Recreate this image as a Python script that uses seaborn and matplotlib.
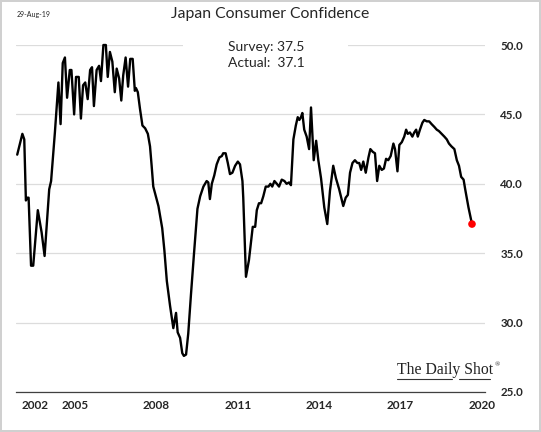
import pandas as pd
import matplotlib.pyplot as plt
import seaborn as sns
from matplotlib.patches import Rectangle
from matplotlib.lines import Line2D

# -------------------------------
# Data (decimal years)
# -------------------------------
years = [
    2002.86, 2003.05, 2003.12, 2003.18, 2003.23, 2003.28, 2003.37, 2003.45, 2003.62, 2003.76,
    2003.87, 2004.04, 2004.11, 2004.25, 2004.38, 2004.46, 2004.54, 2004.62, 2004.70, 2004.80,
    2004.86, 2004.96, 2005.03, 2005.13, 2005.21, 2005.29, 2005.37, 2005.46, 2005.55, 2005.62,
    2005.69, 2005.79, 2005.88, 2005.95, 2006.04, 2006.13, 2006.20, 2006.28, 2006.37, 2006.46,
    2006.53, 2006.62, 2006.70, 2006.77, 2006.86, 2006.95, 2007.03, 2007.12, 2007.20, 2007.24,
    2007.31, 2007.39, 2007.48, 2007.58, 2007.68, 2007.76, 2007.82, 2007.88, 2008.07, 2008.21,
    2008.29, 2008.38, 2008.50, 2008.62, 2008.72, 2008.78, 2008.87, 2008.95, 2009.01, 2009.09,
    2009.17, 2009.27, 2009.38, 2009.51, 2009.61, 2009.73, 2009.85, 2009.91, 2009.97, 2010.04,
    2010.13, 2010.22, 2010.32, 2010.41, 2010.46, 2010.55, 2010.63, 2010.71, 2010.80, 2010.90,
    2011.00, 2011.08, 2011.17, 2011.20, 2011.30, 2011.41, 2011.51, 2011.55, 2011.64, 2011.70,
    2011.78, 2011.86, 2011.94, 2012.03, 2012.13, 2012.20, 2012.27, 2012.35, 2012.44, 2012.52,
    2012.62, 2012.72, 2012.80, 2012.89, 2012.96, 2013.05, 2013.14, 2013.21, 2013.27, 2013.33,
    2013.38, 2013.45, 2013.54, 2013.63, 2013.70, 2013.80, 2013.89, 2013.97, 2014.07, 2014.19,
    2014.30, 2014.40, 2014.52, 2014.62, 2014.74, 2014.89, 2014.98, 2015.06, 2015.14, 2015.23,
    2015.32, 2015.41, 2015.48, 2015.55, 2015.63, 2015.72, 2015.82, 2015.89, 2015.98, 2016.06,
    2016.14, 2016.22, 2016.31, 2016.39, 2016.47, 2016.55, 2016.64, 2016.74, 2016.80, 2016.89,
    2016.96, 2017.05, 2017.14, 2017.21, 2017.27, 2017.35, 2017.44, 2017.51, 2017.58, 2017.64,
    2017.72, 2017.81, 2017.88, 2017.97, 2018.06, 2018.15, 2018.25, 2018.34, 2018.42, 2018.52,
    2018.62, 2018.71, 2018.79, 2018.88, 2018.99, 2019.08, 2019.16, 2019.24, 2019.33, 2019.39,
    2019.51, 2019.64,
]
confidence = [
    42.1, 43.6, 43.2, 38.8, 39.0, 39.0, 34.1, 34.1, 38.1, 36.5,
    34.8, 39.6, 40.2, 43.7, 47.3, 44.3, 48.7, 49.1, 46.2, 48.2,
    48.2, 45.0, 47.7, 47.7, 44.7, 47.1, 47.3, 46.1, 48.2, 48.4,
    45.6, 48.2, 48.5, 47.4, 50.0, 50.0, 47.7, 49.5, 48.8, 46.6,
    48.3, 47.6, 46.0, 47.8, 49.1, 47.0, 49.0, 49.0, 46.7, 46.9,
    46.6, 45.4, 44.2, 44.0, 43.6, 42.7, 41.3, 39.8, 38.4, 36.8,
    35.2, 33.0, 31.2, 29.6, 30.7, 29.3, 28.9, 27.8, 27.6, 27.7,
    29.2, 32.0, 34.9, 38.2, 39.1, 39.8, 40.2, 40.1, 38.9, 40.0,
    40.6, 41.4, 41.9, 42.0, 42.2, 42.2, 41.5, 40.7, 40.8, 41.3,
    41.6, 41.4, 40.2, 39.0, 33.3, 34.5, 36.2, 36.9, 36.9, 38.1,
    38.6, 38.6, 39.1, 39.8, 39.8, 40.0, 39.8, 40.2, 40.0, 39.8,
    40.3, 40.2, 40.0, 40.1, 39.9, 43.2, 44.2, 44.8, 44.6, 44.8,
    45.1, 43.9, 43.4, 42.5, 45.5, 41.7, 43.1, 41.7, 40.4, 38.3,
    37.1, 39.5, 41.3, 40.4, 39.6, 38.4, 39.0, 39.2, 40.8, 41.5,
    41.7, 41.5, 41.5, 41.0, 41.6, 40.8, 41.9, 42.5, 42.3, 42.2,
    40.2, 41.3, 41.0, 41.1, 41.8, 41.7, 42.0, 42.9, 42.5, 40.9,
    42.8, 43.0, 43.4, 43.9, 43.6, 43.7, 43.4, 43.7, 43.9, 43.4,
    43.9, 44.4, 44.6, 44.5, 44.5, 44.3, 44.1, 43.9, 43.8, 43.6,
    43.4, 43.2, 42.9, 42.7, 42.5, 41.7, 41.3, 40.5, 40.3, 39.6,
    38.3, 37.1,
]

tick_years = [2003.5, 2005, 2008, 2011, 2014, 2017, 2020]
tick_labels = ["2002", "2005", "2008", "2011", "2014", "2017", "2020"]
y_ticks = [25, 30, 35, 40, 45, 50]

df = pd.DataFrame({"year": years, "confidence": confidence})
last = df.tail(1)

# -------------------------------
# Figure
# -------------------------------
sns.set_style("white")
plt.rcParams["font.family"] = ["Lato", "DejaVu Sans"]

W, H = 541, 432
fig = plt.figure(figsize=(W / 100, H / 100), dpi=100)
fig.patch.set_edgecolor("#d0d0d0")
fig.patch.set_linewidth(1.5)
ax = fig.add_axes([16 / W, 1 - 392 / H, (485 - 16) / W, (392 - 45) / H])

sns.lineplot(data=df, x="year", y="confidence", ax=ax, color="black", lw=1.7, zorder=3)
sns.scatterplot(data=last, x="year", y="confidence", ax=ax, color="red", s=30,
                edgecolor="none", zorder=4)
for ln in ax.lines:
    ln.set_clip_on(False)

ax.set_xlim(2002.815, 2020.12)
ax.set_ylim(25, 50)
ax.set_xlabel("")
ax.set_ylabel("")

ax.yaxis.tick_right()
ax.set_yticks(y_ticks)
ax.set_yticklabels([f"{v:.1f}" for v in y_ticks], fontweight="bold", fontsize=8.3)
ax.tick_params(axis="y", length=0, pad=11)
ax.grid(axis="y", color="#dcdcdc", lw=0.9)

ax.set_xticks(tick_years)
ax.set_xticklabels(tick_labels, fontweight="bold", fontsize=8.5)
ax.tick_params(axis="x", direction="inout", length=5, width=0.8, color="#404040", pad=3)

for side in ["top", "left", "right"]:
    ax.spines[side].set_visible(False)
ax.spines["bottom"].set_color("#404040")
ax.spines["bottom"].set_linewidth(0.9)

# white box behind the survey/actual note
ax.add_patch(Rectangle((183 / W, 1 - 78 / H), 165 / W, 42 / H, transform=fig.transFigure,
                       facecolor="white", edgecolor="none", zorder=1, clip_on=False))

fig.text(270 / W, 1 - 14 / H, "Japan Consumer Confidence", ha="center", va="center", fontsize=11.3)
fig.text(17 / W, 1 - 14 / H, "29-Aug-19", ha="left", va="center", fontsize=5)
fig.text(228 / W, 1 - 55 / H, "Survey: 37.5\nActual:  37.1", ha="left", va="center",
         fontsize=10, linespacing=1.45)

# logo
logo = fig.text(397 / W, 1 - 370 / H, "The Daily Shot", ha="left", va="center", fontsize=11.3,
                family="Liberation Serif", color="#222222")
ax.annotate("®", xy=(1, 0.95), xycoords=logo, xytext=(1, 0), textcoords="offset points",
            ha="left", va="top", fontsize=5, family="Liberation Serif", color="#222222")
for x0, x1 in [(397, 452), (459, 490)]:
    fig.add_artist(Line2D([x0 / W, x1 / W], [1 - 378.5 / H, 1 - 378.5 / H],
                          transform=fig.transFigure, color="#333333", lw=0.8))

fig.savefig("out.png", dpi=100, edgecolor=fig.get_edgecolor())
